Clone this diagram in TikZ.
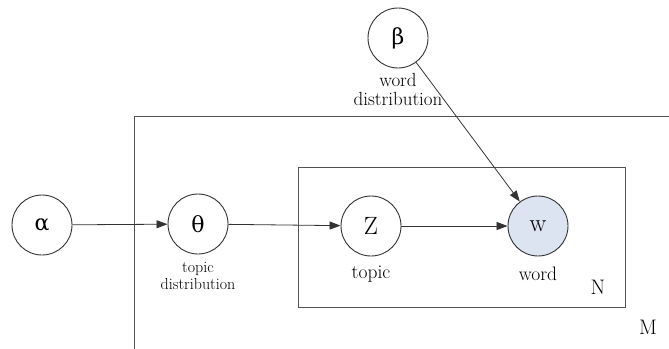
\documentclass[tikz,border=0pt]{standalone}
\usepackage{fontspec}
\newfontfamily\grk{DejaVu Serif}
\usetikzlibrary{arrows.meta}
\definecolor{wfill}{HTML}{DCE3F1}
\definecolor{lc}{HTML}{333333}
\tikzset{
  var/.style={circle, draw=lc, line width=0.9pt, minimum size=60pt, inner sep=0pt, font=\fontsize{25}{25}\selectfont},
  obs/.style={var, fill=wfill},
  greek/.style={var, font=\grk\fontsize{22}{22}\selectfont},
  lab/.style={align=center, font=\fontsize{16}{17}\selectfont, inner sep=0pt},
  biglab/.style={font=\fontsize{19.5}{20}\selectfont, inner sep=0pt},
  plate/.style={draw=lc!85, line width=0.9pt},
  edge/.style={draw=lc, line width=0.8pt, -{Triangle[length=11pt,width=8pt]}}
}
\begin{document}
\begin{tikzpicture}[x=1pt,y=-1pt]
\useasboundingbox (0,0) rectangle (669,348);
\draw[plate] (672,116) -- (134.5,116) -- (134.5,350);
\draw[plate] (298,167) rectangle (625,307);
\node[greek] (alpha) at (42,225) {α};
\node[greek] (theta) at (198,224) {θ};
\node[var] (z) at (371,226) {Z};
\node[obs] (w) at (538,226) {w};
\node[greek] (beta) at (398,38) {β};
\node[lab, font=\fontsize{19}{19}\selectfont] (betalab) at (398,89) {word\\distribution};
\node[lab] (thetalab) at (198,276) {topic\\distribution};
\node[biglab] (zlab) at (371,274) {topic};
\node[biglab] (wlab) at (538,274) {word};
\node[biglab, font=\fontsize{21}{21}\selectfont] (nlab) at (598,287) {N};
\node[biglab, font=\fontsize{21}{21}\selectfont] (mlab) at (648,327) {M};
\draw[edge] (alpha) -- (theta);
\draw[edge] (theta) -- (z);
\draw[edge] (z) -- (w);
\draw[edge] (beta) -- (w);
\end{tikzpicture}
\end{document}
